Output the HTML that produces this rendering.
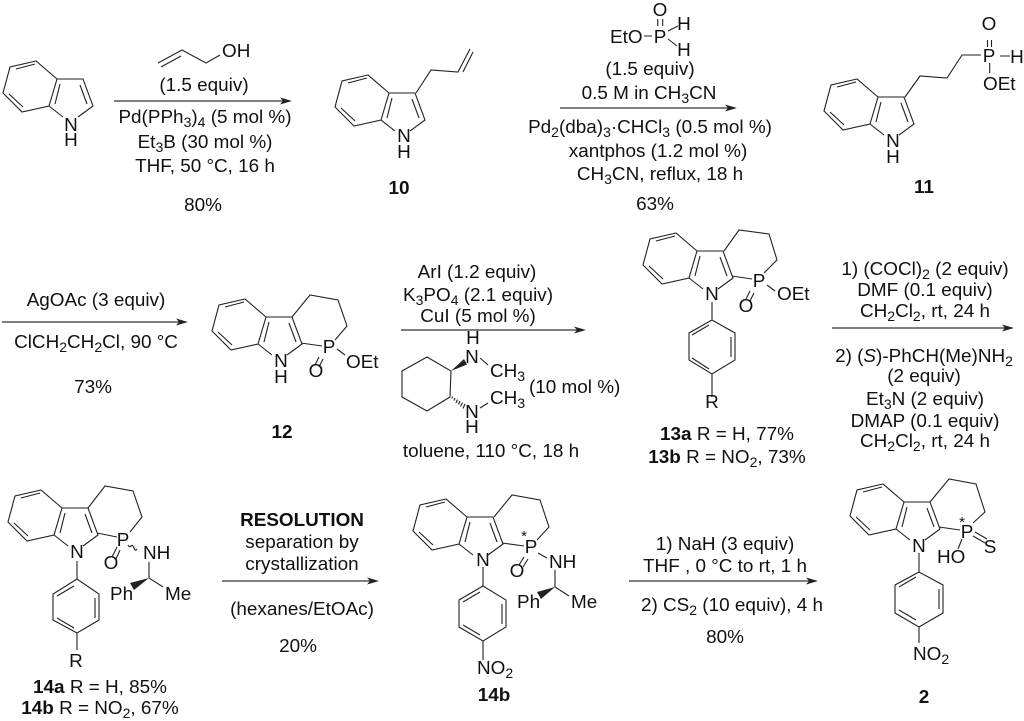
<!DOCTYPE html>
<html><head><meta charset="utf-8"><style>
html,body{margin:0;padding:0;background:#fff}
svg{display:block}
text{font-family:"Liberation Sans",sans-serif;font-size:18.9px;fill:#111}
.m{text-anchor:middle}
.b{font-weight:bold}
.s{font-size:14px}
path,line{fill:none;stroke:#222;stroke-width:1.1}
.f{fill:#222;stroke:none}
.a{stroke:#333;stroke-width:1.2}
</style></head><body>
<svg width="1024" height="721" viewBox="0 0 1024 721" xmlns="http://www.w3.org/2000/svg">
<rect width="1024" height="721" fill="#fff"/>

<!-- Indole cores -->
<g id="i1"><path d="M36 61L10 67L3 93L22 112L49 106L57 79ZM57 79H83L93 106L78 117M49 106L63 117M16 69L35 64M9 94L23 107M55 104L60 84M80 85L87 104"/></g>
<g transform="translate(332,14)"><path d="M36 61L10 67L3 93L22 112L49 106L57 79ZM57 79H83L93 106L78 117M49 106L63 117M16 69L35 64M9 94L23 107M55 104L60 84M80 85L87 104"/></g>
<g transform="translate(821,18)"><path d="M36 61L10 67L3 93L22 112L49 106L57 79ZM57 79H83L93 106L78 117M49 106L63 117M16 69L35 64M9 94L23 107M55 104L60 84M80 85L87 104"/></g>
<g transform="translate(209,238)"><path d="M36 61L10 67L3 93L22 112L49 106L57 79ZM57 79H83L93 106L78 117M49 106L63 117M16 69L35 64M9 94L23 107M55 104L60 84M80 85L87 104"/></g>
<g transform="translate(640,172)"><path d="M36 61L10 67L3 93L22 112L49 106L57 79ZM57 79H83L93 106L78 117M49 106L63 117M16 69L35 64M9 94L23 107M55 104L60 84M80 85L87 104"/></g>
<g transform="translate(5,429)"><path d="M36 61L10 67L3 93L22 112L49 106L57 79ZM57 79H83L93 106L78 117M49 106L63 117M16 69L35 64M9 94L23 107M55 104L60 84M80 85L87 104"/></g>
<g transform="translate(410,438)"><path d="M36 61L10 67L3 93L22 112L49 106L57 79ZM57 79H83L93 106L78 117M49 106L63 117M16 69L35 64M9 94L23 107M55 104L60 84M80 85L87 104"/></g>
<g transform="translate(847,423)"><path d="M36 61L10 67L3 93L22 112L49 106L57 79ZM57 79H83L93 106L78 117M49 106L63 117M16 69L35 64M9 94L23 107M55 104L60 84M80 85L87 104"/></g>

<!-- Structure 1 labels -->
<text class="m" x="71" y="131">N</text><text class="m" x="71" y="146">H</text>

<!-- Allyl alcohol -->
<path d="M158 63L182 50L206 63L220 55M161 67L181 56"/>
<text x="222" y="57">OH</text>
<text class="m" x="204" y="91">(1.5 equiv)</text>
<line class="a" x1="114" y1="101" x2="288" y2="101"/><path class="f" d="M292 101L280 97.5L283 101L280 104.500Z"/>
<text class="m" x="205" y="123">Pd(PPh<tspan class="s" dy="4">3</tspan><tspan dy="-4">)</tspan><tspan class="s" dy="4">4</tspan><tspan dy="-4"> (5 mol %)</tspan></text>
<text class="m" x="205" y="148">Et<tspan class="s" dy="4">3</tspan><tspan dy="-4">B (30 mol %)</tspan></text>
<text class="m" x="205" y="172">THF, 50 °C, 16 h</text>
<text class="m" x="203" y="211">80%</text>

<!-- 10 -->
<path d="M416 93L431 70L458 72L470 49M463 72L473 52"/>
<text class="m" x="404" y="142">N</text><text class="m" x="404" y="158">H</text>
<text class="m b" x="399" y="194">10</text>

<!-- EtO-PH2 reagent -->
<text class="m" x="660" y="16">O</text>
<text x="610" y="43">EtO</text>
<text class="m" x="660" y="43">P</text>
<text class="m" x="684" y="30">H</text>
<text class="m" x="684" y="56">H</text>
<path d="M657.700 19V26M662.700 19V26M644 36H652M668 31L678 26M668 39L677 46"/>
<text class="m" x="650" y="75">(1.5 equiv)</text>
<text class="m" x="649" y="99">0.5 M in CH<tspan class="s" dy="4">3</tspan><tspan dy="-4">CN</tspan></text>
<line class="a" x1="560" y1="108" x2="733" y2="108"/><path class="f" d="M737 108L725 104.500L728 108L725 111.500Z"/>
<text class="m" x="650" y="133">Pd<tspan class="s" dy="4">2</tspan><tspan dy="-4">(dba)</tspan><tspan class="s" dy="4">3</tspan><tspan dy="-4">·CHCl</tspan><tspan class="s" dy="4">3</tspan><tspan dy="-4"> (0.5 mol %)</tspan></text>
<text class="m" x="658" y="157">xantphos (1.2 mol %)</text>
<text class="m" x="660" y="180">CH<tspan class="s" dy="4">3</tspan><tspan dy="-4">CN, reflux, 18 h</tspan></text>
<text class="m" x="655" y="210">63%</text>

<!-- 11 -->
<path d="M905 97L920 76L947 78L962 55H981M987.500 40V47M991.500 40V47M1000 56H1010M989.700 63V73"/>
<text class="m" x="989" y="30">O</text>
<text class="m" x="989" y="62">P</text>
<text class="m" x="1017" y="63">H</text>
<text x="983" y="90">OEt</text>
<text class="m" x="893" y="147">N</text><text class="m" x="893" y="163">H</text>
<text class="m b" x="924" y="193">11</text>

<!-- Row 2 arrow 1 -->
<text class="m" x="96" y="306">AgOAc (3 equiv)</text>
<line class="a" x1="2" y1="322" x2="184" y2="322"/><path class="f" d="M188 322L176 318.500L179 322L176 325.500Z"/>
<text class="m" x="96" y="348">ClCH<tspan class="s" dy="4">2</tspan><tspan dy="-4">CH</tspan><tspan class="s" dy="4">2</tspan><tspan dy="-4">Cl, 90 °C</tspan></text>
<text class="m" x="93" y="393">73%</text>

<!-- 12 -->
<path d="M292 317L310 295L338 300L347 326L335 340M301 343L322 346M319 357L315 365M323 359L319 367M337 349L345 355"/>
<text class="m" x="329" y="353">P</text>
<text class="m" x="316" y="377">O</text>
<text x="346" y="368">OEt</text>
<text class="m" x="281" y="367">N</text><text class="m" x="281" y="383">H</text>
<text class="m b" x="282" y="438">12</text>

<!-- Row 2 arrow 2 -->
<text class="m" x="477" y="278">ArI (1.2 equiv)</text>
<text class="m" x="478" y="301">K<tspan class="s" dy="4">3</tspan><tspan dy="-4">PO</tspan><tspan class="s" dy="4">4</tspan><tspan dy="-4"> (2.1 equiv)</tspan></text>
<text class="m" x="478" y="322">CuI (5 mol %)</text>
<line class="a" x1="401" y1="330" x2="582" y2="330"/><path class="f" d="M586 330L574 326.500L577 330L574 333.500Z"/>
<path d="M427 357L402 371V397L427 411L450 397L451 371ZM480 358L488 365M480 408L488 403"/>
<path class="f" d="M451 371L464 359L467 364.500Z"/>
<path d="M452.500 396.500L452 398.500M455 398L454 400.500M457.500 399.500L456 403M460 401L458.500 404.500M462.500 402.500L460.500 406.500M465 404L463 408.500"/>
<text class="m" x="473" y="344">H</text>
<text class="m" x="472" y="363">N</text>
<text x="490" y="377">CH<tspan class="s" dy="4">3</tspan></text>
<text x="490" y="404">CH<tspan class="s" dy="4">3</tspan></text>
<text class="m" x="472" y="418">N</text>
<text class="m" x="472" y="433">H</text>
<text x="529" y="393">(10 mol %)</text>
<text class="m" x="491" y="457">toluene, 110 °C, 18 h</text>

<!-- 13 -->
<path d="M724 251L739 230L769 234L777 260L764 273M732 276L752 279M750 291L746 299M754 293L750 301M767 285L775 291"/>
<text class="m" x="759" y="287">P</text>
<text x="777" y="300">OEt</text>
<text class="m" x="746" y="312">O</text>
<text class="m" x="712" y="300">N</text>
<path d="M712 302V320M712 320L689 333V360L712 374L735 360V333ZM692 335L709 325M731 337V357M692 358L709 369M712 374V397"/>
<text class="m" x="712" y="408">R</text>
<text class="m" x="727" y="440"><tspan class="b">13a</tspan> R = H, 77%</text>
<text class="m" x="727" y="463"><tspan class="b">13b</tspan> R = NO<tspan class="s" dy="4">2</tspan><tspan dy="-4">, 73%</tspan></text>

<!-- Row 2 arrow 3 -->
<text class="m" x="925" y="275">1) (COCl)<tspan class="s" dy="4">2</tspan><tspan dy="-4"> (2 equiv)</tspan></text>
<text class="m" x="925" y="296">DMF (0.1 equiv)</text>
<text class="m" x="925" y="317">CH<tspan class="s" dy="4">2</tspan><tspan dy="-4">Cl</tspan><tspan class="s" dy="4">2</tspan><tspan dy="-4">, rt, 24 h</tspan></text>
<line class="a" x1="832" y1="328" x2="1010" y2="328"/><path class="f" d="M1014 328L1002 324.500L1005 328L1002 331.500Z"/>
<text class="m" x="924" y="362">2) (<tspan font-style="italic">S</tspan>)-PhCH(Me)NH<tspan class="s" dy="4">2</tspan></text>
<text class="m" x="924" y="382">(2 equiv)</text>
<text class="m" x="925" y="405">Et<tspan class="s" dy="4">3</tspan><tspan dy="-4">N (2 equiv)</tspan></text>
<text class="m" x="925" y="427">DMAP (0.1 equiv)</text>
<text class="m" x="925" y="447">CH<tspan class="s" dy="4">2</tspan><tspan dy="-4">Cl</tspan><tspan class="s" dy="4">2</tspan><tspan dy="-4">, rt, 24 h</tspan></text>

<!-- 14 -->
<path d="M88 508L105 486L133 491L142 517L130 532M97 533L117 537M117 547L112 557M120 550L116 559M128 545q1.500 3 3 1t3 2t3 1M149 562V578L163 587M77 561V579M77 579L53 594V620L77 633L99 620V594ZM57 596L74 586M95 598V618M57 618L74 628M77 633V650"/>
<path class="f" d="M149 578L130 583L134 590Z"/>
<text class="m" x="123" y="546">P</text>
<text class="m" x="111" y="569">O</text>
<text x="143" y="559">NH</text>
<text x="110" y="600">Ph</text>
<text x="165" y="600">Me</text>
<text class="m" x="77" y="558">N</text>
<text class="m" x="76" y="667">R</text>
<text class="m" x="100" y="693"><tspan class="b">14a</tspan> R = H, 85%</text>
<text class="m" x="100" y="714"><tspan class="b">14b</tspan> R = NO<tspan class="s" dy="4">2</tspan><tspan dy="-4">, 67%</tspan></text>

<!-- Row 3 arrow 1 -->
<text class="m b" x="302" y="526">RESOLUTION</text>
<text class="m" x="302" y="548">separation by</text>
<text class="m" x="302" y="570">crystallization</text>
<line class="a" x1="222" y1="581" x2="375" y2="581"/><path class="f" d="M379 581L367 577.500L370 581L367 584.500Z"/>
<text class="m" x="302" y="615">(hexanes/EtOAc)</text>
<text class="m" x="298" y="652">20%</text>

<!-- 14b -->
<path d="M494 517L512 495L540 500L549 527L537 540M502 543L524 546M524 557L519 565M528 559L523 567M538 553L547 558M555 570V587L569 596M483 567V586M483 586L459 600V627L483 641L506 627V600ZM463 602L480 592M502 604V624M463 625L480 635M483 641V660"/>
<path class="f" d="M555 587L537 592L541 599Z"/>
<text class="m" x="524" y="541" style="font-size:15px">*</text>
<text class="m" x="531" y="553">P</text>
<text class="m" x="517" y="577">O</text>
<text x="549" y="568">NH</text>
<text x="517" y="608">Ph</text>
<text x="571" y="608">Me</text>
<text class="m" x="483" y="566">N</text>
<text x="477" y="674">NO<tspan class="s" dy="4">2</tspan></text>
<text class="m b" x="494" y="701">14b</text>

<!-- Row 3 arrow 2 -->
<text class="m" x="725" y="550">1) NaH (3 equiv)</text>
<text class="m" x="725" y="572">THF , 0 °C to rt, 1 h</text>
<line class="a" x1="629" y1="581" x2="814" y2="581"/><path class="f" d="M818 581L806 577.500L809 581L806 584.500Z"/>
<text class="m" x="732" y="611">2) CS<tspan class="s" dy="4">2</tspan><tspan dy="-4"> (10 equiv), 4 h</tspan></text>
<text class="m" x="725" y="643">80%</text>

<!-- 2 -->
<path d="M930 502L949 479L976 484L985 512L973 523M939 527L960 530M973 536L985 543M975 532L987 539M962 539L958 549M919 553V572M919 572L895 585V613L919 627L943 613V585ZM899 587L916 577M939 589V609M899 610L916 620M919 627V643"/>
<text class="m" x="962" y="527" style="font-size:15px">*</text>
<text class="m" x="967" y="538">P</text>
<text class="m" x="990" y="553">S</text>
<text x="937" y="563">HO</text>
<text class="m" x="919" y="552">N</text>
<text x="913" y="660">NO<tspan class="s" dy="4">2</tspan></text>
<text class="m b" x="924" y="703">2</text>
</svg>
</body></html>
